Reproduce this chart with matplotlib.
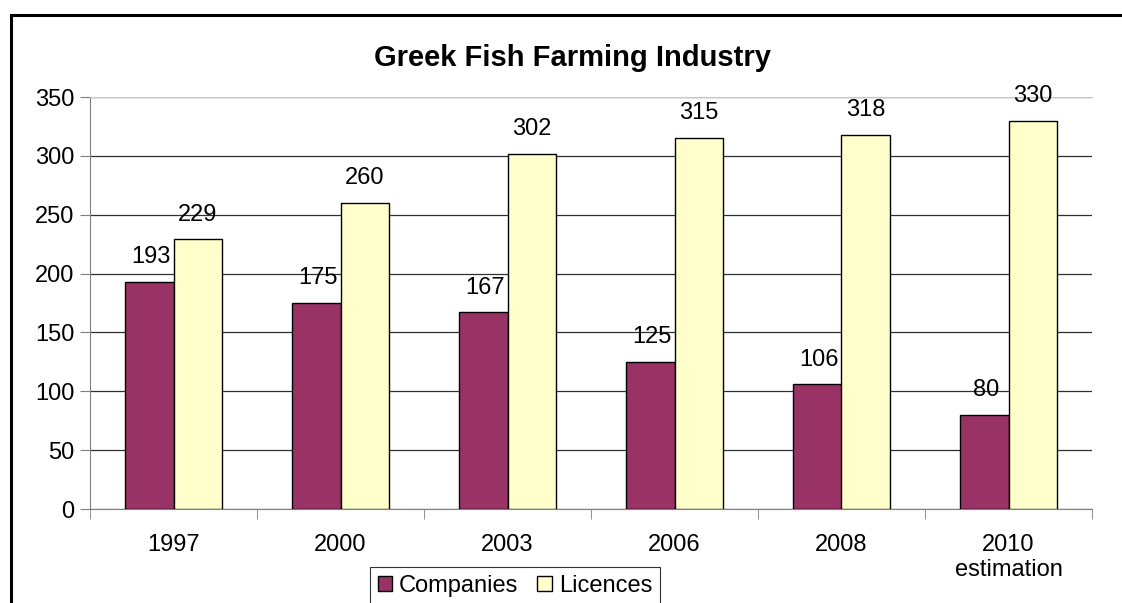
import matplotlib.pyplot as plt
import numpy as np
from matplotlib.patches import Rectangle

years = ["1997", "2000", "2003", "2006", "2008", "2010\nestimation"]
companies = [193, 175, 167, 125, 106, 80]
licences = [229, 260, 302, 315, 318, 330]

plt.rcParams["font.family"] = ["Liberation Sans", "DejaVu Sans"]

fig = plt.figure(figsize=(11.22, 6.03), dpi=100)
W, H = 1122, 603

# outer frame of the embedded chart (left and top edges visible)
fig.patches.append(Rectangle((11 / W, -0.1), 1.2, 1 - 15 / H + 0.1,
                             transform=fig.transFigure, fill=False,
                             edgecolor="black", linewidth=2.2))

ax = fig.add_axes([90 / W, 1 - 509 / H, (1092 - 90) / W, (509 - 97) / H])

x = np.arange(len(years))
w = 0.29
ax.bar(x - w / 2, companies, w, color="#993366", edgecolor="black",
       linewidth=1, label="Companies", zorder=3)
ax.bar(x + w / 2, licences, w, color="#FFFFCC", edgecolor="black",
       linewidth=1, label="Licences", zorder=3)

fs = 17
for i in range(len(years)):
    ax.text(x[i] - w / 2 + 0.012, companies[i] + 21, str(companies[i]),
            ha="center", va="center", fontsize=fs, zorder=4)
    ax.text(x[i] + w / 2, licences[i] + 21, str(licences[i]),
            ha="center", va="center", fontsize=fs, zorder=4)

ax.set_xlim(-0.5, len(years) - 0.5)
ax.set_ylim(0, 350)
ax.set_yticks(range(0, 351, 50))
ax.yaxis.grid(True, color="#303030", linewidth=0.9, zorder=0)
ax.set_axisbelow(True)

ax.set_xticks(x)
ax.set_xticklabels(years, fontsize=fs, linespacing=1.2)
ax.set_xticks(np.arange(-0.5, len(years), 1), minor=True)
ax.tick_params(axis="x", which="major", length=0, pad=18)
ax.tick_params(axis="x", which="minor", length=7, color="#808080", direction="out")
ax.tick_params(axis="y", labelsize=fs, length=7, color="#808080", pad=4)

for s in ["left", "bottom"]:
    ax.spines[s].set_color("#808080")
ax.spines["top"].set_color("#c8c8c8")
ax.spines["right"].set_visible(False)

fig.text(573 / W, 1 - 58 / H, "Greek Fish Farming Industry", ha="center",
         va="center", fontsize=21, fontweight="bold")

leg = fig.legend(loc="upper center", bbox_to_anchor=(515 / W, 1 - 555 / H),
                 ncol=2, fontsize=fs, frameon=True, fancybox=False,
                 edgecolor="black", handlelength=0.6, handleheight=0.6,
                 handletextpad=0.3, columnspacing=0.8, borderpad=0.35)
leg.get_frame().set_linewidth(0.8)

fig.savefig("out.png", dpi=100)
